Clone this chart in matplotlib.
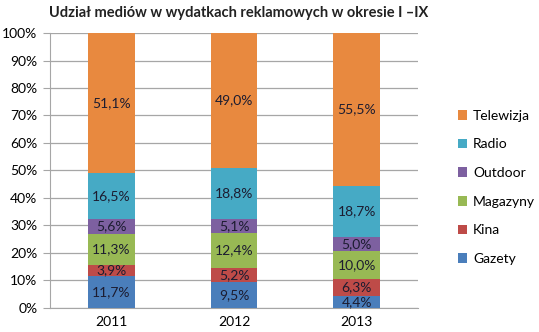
import numpy as np
import matplotlib.pyplot as plt

years = ['2011', '2012', '2013']
media = ['Gazety', 'Kina', 'Magazyny', 'Outdoor', 'Radio', 'Telewizja']
gazety = [11.7, 9.5, 4.4]
kina = [3.9, 5.2, 6.3]
magazyny = [11.3, 12.4, 10.0]
outdoor = [5.6, 5.1, 5.0]
radio = [16.5, 18.8, 18.7]
telewizja = [51.1, 49.0, 55.5]
colors = ['#4A7EBB', '#BE4B48', '#98B954', '#7D60A0', '#46AAC5', '#E8893F']

plt.rcParams['font.family'] = ['Lato', 'DejaVu Sans']

series = np.array([gazety, kina, magazyny, outdoor, radio, telewizja])
shares = series / series.sum(axis=0) * 100

fig = plt.figure(figsize=(5.39, 3.32), dpi=100)
ax = fig.add_axes([0.0928, 0.0723, 0.6827, 0.8283])

x = np.arange(len(years))
bottom = np.zeros(len(years))
handles = []
for name, vals, raw, c in zip(media, shares, series, colors):
    b = ax.bar(x, vals, 0.38, bottom=bottom, color=c, label=name, zorder=3)
    handles.append(b)
    for xi, bi, v, r in zip(x, bottom, vals, raw):
        ax.text(xi, bi + v / 2, ('%.1f%%' % r).replace('.', ','),
                ha='center', va='center', fontsize=10, color='#1c1c30', zorder=4)
    bottom += vals

ax.set_xlim(-0.5, 2.5)
ax.set_ylim(0, 100)
ax.set_yticks(np.arange(0, 101, 10))
ax.set_yticklabels(['%d%%' % v for v in range(0, 101, 10)], fontsize=10)
ax.set_xticks(x)
ax.set_xticklabels(years, fontsize=10)
ax.yaxis.grid(True, color='#A6A6A6', linewidth=0.9, zorder=0)
for s in ['top', 'right']:
    ax.spines[s].set_visible(False)
ax.spines['left'].set_color('#A6A6A6')
ax.spines['bottom'].set_color('#A6A6A6')
ax.tick_params(axis='y', length=5, color='#A6A6A6', pad=4)
ax.tick_params(axis='x', length=0, pad=6)

fig.text(0.442, 0.96, 'Udział mediów w wydatkach reklamowych w okresie I \u2013IX',
         ha='center', va='center', fontsize=10.5, fontweight='bold', color='#222222')

leg = fig.legend(handles[::-1], media[::-1], loc='upper left',
                 bbox_to_anchor=(0.826, 0.707), frameon=False, fontsize=10,
                 handlelength=0.7, handleheight=0.7, handletextpad=0.4,
                 labelspacing=1.2)

fig.savefig('out.png', dpi=100)
